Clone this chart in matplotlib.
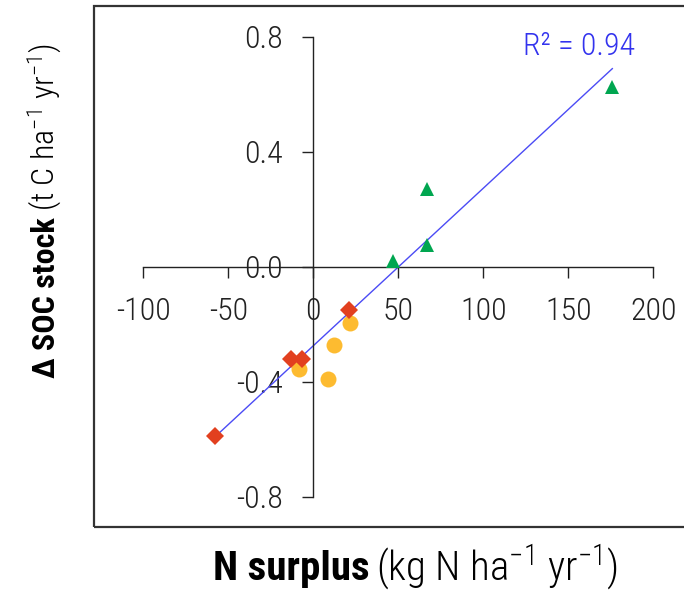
import numpy as np
import matplotlib
matplotlib.use("Agg")
import matplotlib.pyplot as plt
from matplotlib import font_manager
from matplotlib.patches import Rectangle

# datos
tri_x = [47, 66.7, 66.7, 175.9]
tri_y = [0.02, 0.075, 0.27, 0.624]
dia_x = [-57.8, -13.1, -6.5, 21.0]
dia_y = [-0.589, -0.321, -0.321, -0.151]
cir_x = [21.6, 12.4, -8.2, 8.8]
cir_y = [-0.197, -0.272, -0.356, -0.392]

fit_slope = 0.00548
fit_intercept = -0.275
r2_text = "R² = 0.94"

x_ticks = [-100, -50, 0, 50, 100, 150, 200]
y_ticks = [-0.8, -0.4, 0.0, 0.4, 0.8]

# fuente estrecha: la primera que haya
names = {f.name for f in font_manager.fontManager.ttflist}
font = "DejaVu Sans"
for cand in ["Liberation Sans Narrow", "Arial Narrow", "Roboto Condensed",
             "Archivo Narrow", "PT Sans Narrow", "Barlow Semi Condensed", "Asap Condensed"]:
    if cand in names:
        font = cand
        break
plt.rcParams['font.family'] = [font, 'DejaVu Sans']
plt.rcParams['font.weight'] = 'light'
plt.rcParams['mathtext.fontset'] = 'custom'
plt.rcParams['mathtext.rm'] = font + ':light'
plt.rcParams['mathtext.default'] = 'regular'

W, H = 684, 595
def px(x, y):
    return x / W, 1 - y / H

fig = plt.figure(figsize=(W / 100, H / 100), dpi=100)
left, top, bottom = 94, 6, 527
ax = fig.add_axes([left / W, (H - bottom) / H, (W - left) / W, (bottom - top) / H])
ax.patch.set_visible(False)

ax.set_xlim((left - 313.3) / 1.7, (W - 313.3) / 1.7)
ax.set_ylim((266.7 - bottom) / 287.5, (266.7 - top) / 287.5)

# marco (se corta por la derecha)
fig.patches.append(Rectangle(px(left, bottom), 1.2, (bottom - top) / H,
                             transform=fig.transFigure, fill=False,
                             edgecolor='#333333', linewidth=1.6, clip_on=False))

# ejes cruzando en el origen
for s in ['top', 'right']:
    ax.spines[s].set_visible(False)
ax.spines['left'].set_position(('data', 0))
ax.spines['bottom'].set_position(('data', 0))
ax.spines['left'].set_bounds(-0.8, 0.8)
ax.spines['bottom'].set_bounds(-100, 200)
for s in ['left', 'bottom']:
    ax.spines[s].set_linewidth(1.0)
    ax.spines[s].set_color('#222222')

ax.set_xticks(x_ticks)
ax.set_xticklabels([str(t) for t in x_ticks])
ax.set_yticks(y_ticks)
ax.set_yticklabels(["%.1f" % t for t in y_ticks])
ax.tick_params(axis='both', direction='out', length=8, width=1.0, labelsize=23, pad=14,
               color='#222222', labelcolor='#222222')

# recta de regresion
all_x = tri_x + dia_x + cir_x
xx = np.array([min(all_x), max(all_x)])
ax.plot(xx, fit_intercept + fit_slope * xx, color='#4b4bf5', linewidth=1.0, zorder=2)

ax.plot(cir_x, cir_y, 'o', color='#fdbb30', markersize=11.5, markeredgewidth=0, zorder=3)
ax.plot(dia_x, dia_y, 'D', color='#e2401f', markersize=9, markeredgewidth=0, zorder=3)
ax.plot(tri_x, tri_y, '^', color='#00a650', markersize=10.5, markeredgewidth=0, zorder=3)

ax.text(123.4, 0.736, r2_text, color='#3333ee', fontsize=23, ha='left', va='baseline')

# etiquetas: parte en negrita y parte normal
xl1 = fig.text(*px(213, 580), "N surplus", fontsize=29.5, fontweight='bold',
               ha='left', va='baseline')
yl1 = fig.text(*px(55, 378), "Δ SOC stock", fontsize=23, fontweight='bold', rotation=90,
               rotation_mode='anchor', ha='left', va='baseline')
fig.canvas.draw()
r = fig.canvas.get_renderer()
bx = xl1.get_window_extent(r)
by = yl1.get_window_extent(r)
fig.text((bx.x1 + 6) / W, 1 - 580 / H, "(kg N ha$^{-1}$ yr$^{-1}$)", fontsize=29.5,
         ha='left', va='baseline')
fig.text(55 / W, (by.y1 + 6) / H, "(t C ha$^{-1}$ yr$^{-1}$)", fontsize=23, rotation=90,
         rotation_mode='anchor', ha='left', va='baseline')

fig.savefig("out.png", dpi=100)
